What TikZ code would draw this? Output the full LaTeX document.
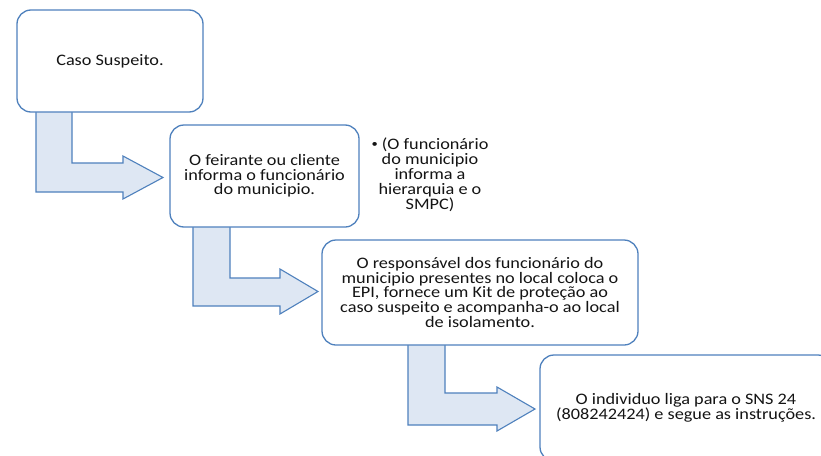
\documentclass[tikz,border=0pt]{standalone}
\usepackage{fontspec}
\setmainfont{Carlito}[FakeStretch=1.14]
\definecolor{boxblue}{RGB}{79,129,189}
\definecolor{arrowfill}{RGB}{222,231,243}
\definecolor{txt}{RGB}{20,20,20}
\begin{document}
\begin{tikzpicture}[x=1pt,y=-1pt,
  stepbox/.style={draw=boxblue,line width=1.3pt,fill=white,rounded corners=14pt,
    align=center,inner sep=0pt,text=txt,font=\fontsize{16}{14.7}\selectfont},
  notetext/.style={align=center,inner sep=0pt,text=txt,font=\fontsize{16}{15}\selectfont},
  bentarrow/.style={draw=boxblue,line width=1.1pt,fill=arrowfill,line join=miter}]
\useasboundingbox (0,0) rectangle (821,455);
\fill[white] (0,0) rectangle (821,455);
\clip (0,0) rectangle (821,455);

% bent arrows (drawn first, boxes on top)
\draw[bentarrow] (36,108) -- (72,108) -- (72,163) -- (123,163) -- (123,156) -- (163,177.5)
  -- (123,199) -- (123,192) -- (36,192) -- cycle;
\draw[bentarrow] (193,223) -- (230,223) -- (230,278) -- (280,278) -- (280,269) -- (318,291.5)
  -- (280,314) -- (280,306) -- (193,306) -- cycle;
\draw[bentarrow] (408,341) -- (445,341) -- (445,393) -- (497,393) -- (497,387) -- (535,409)
  -- (497,431) -- (497,425) -- (408,425) -- cycle;

\node[stepbox,minimum width=186pt,minimum height=102pt] (b1) at (110,61) {Caso Suspeito.};
\node[stepbox,minimum width=189pt,minimum height=102pt] (b2) at (264.5,176)
  {O feirante ou cliente\\informa o funcionário\\do municipio.};
\node[notetext] (note) at (430,175)
  {\raisebox{1.8pt}{\fontsize{11}{11}\selectfont •} (O funcionário\\do municipio\\informa a\\hierarquia e o\\SMPC)};
\node[stepbox,minimum width=316pt,minimum height=105pt] (b3) at (480,292.5)
  {O responsável dos funcionário do\\municipio presentes no local coloca o\\EPI, fornece um Kit de proteção ao\\caso suspeito e acompanha-o ao local\\de isolamento.};
\node[stepbox,minimum width=292pt,minimum height=106pt] (b4) at (686,408)
  {O individuo liga para o SNS 24\\(808242424) e segue as instruções.};
\end{tikzpicture}
\end{document}
